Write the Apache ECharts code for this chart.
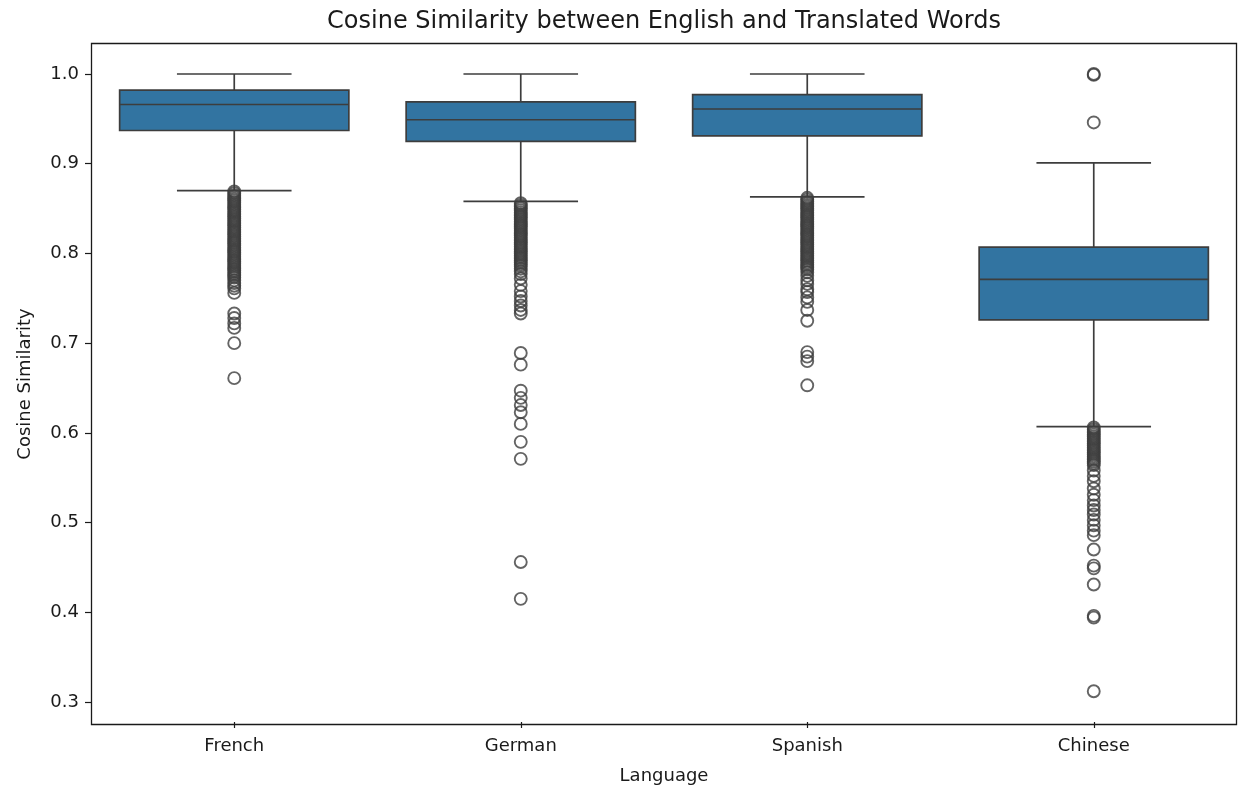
<!DOCTYPE html>
<html>
<head>
<meta charset="utf-8">
<script src="https://cdn.jsdelivr.net/npm/echarts@6/dist/echarts.min.js"></script>
<style>
html,body{margin:0;padding:0;background:#fff;}
#chart{width:1238px;height:790px;}
</style>
</head>
<body>
<div id="chart"></div>
<script>
// ---- data ----
const categories = ['French', 'German', 'Spanish', 'Chinese'];
// [lowWhisker, Q1, median, Q3, highWhisker]
const boxStats = [
  [0.870, 0.937, 0.966, 0.982, 1.000],
  [0.858, 0.925, 0.949, 0.969, 1.000],
  [0.863, 0.931, 0.961, 0.977, 1.000],
  [0.607, 0.726, 0.771, 0.807, 0.901]
];
const outliersFrench = [
  0.869,0.867,0.865,0.863,0.861,0.859,0.857,0.855,0.853,0.851,0.849,0.847,0.845,0.843,
  0.841,0.839,0.837,0.835,0.833,0.831,0.829,0.827,0.825,0.823,0.821,0.819,0.817,0.815,
  0.813,0.811,0.809,0.807,0.805,0.803,0.801,0.799,0.797,0.795,0.793,0.791,0.789,0.787,
  0.785,0.783,0.781,0.779,0.777,0.775,0.773,0.770,0.767,0.764,0.761,0.756,
  0.733,0.728,0.722,0.717,0.700,0.661
];
const outliersGerman = [
  0.856,0.854,0.852,0.850,0.848,0.846,0.844,0.842,0.840,0.838,0.836,0.834,0.832,0.830,
  0.828,0.826,0.824,0.822,0.820,0.818,0.816,0.814,0.812,0.810,0.808,0.806,0.804,0.802,
  0.800,0.798,0.796,0.794,0.792,0.790,0.788,0.786,0.783,0.780,0.777,
  0.772,0.765,0.758,0.752,0.747,0.742,0.737,0.733,
  0.689,0.676,0.647,0.639,0.631,0.623,0.610,0.590,0.571,0.456,0.415
];
const outliersSpanish = [
  0.862,0.860,0.858,0.856,0.854,0.852,0.850,0.848,0.846,0.844,0.842,0.840,0.838,0.836,
  0.834,0.832,0.830,0.828,0.826,0.824,0.822,0.820,0.818,0.816,0.814,0.812,0.810,0.808,
  0.806,0.804,0.802,0.800,0.798,0.796,0.794,0.792,0.790,0.788,0.786,0.784,0.782,0.779,
  0.775,0.770,0.766,0.760,0.757,0.751,0.746,0.737,0.725,
  0.690,0.685,0.680,0.653
];
const outliersChinese = [
  1.000,0.999,0.946,
  0.606,0.604,0.602,0.600,0.598,0.596,0.594,0.592,0.590,0.588,0.586,0.584,0.582,0.580,
  0.578,0.576,0.574,0.572,0.570,0.568,0.566,0.564,
  0.558,0.552,0.546,0.538,0.531,0.525,0.519,0.514,0.509,0.503,0.497,0.491,0.486,
  0.470,0.452,0.449,0.431,0.396,0.394,0.312
];
const yTicks = [0.3, 0.4, 0.5, 0.6, 0.7, 0.8, 0.9, 1.0];

// ---- build ----
const outlierGroups = [outliersFrench, outliersGerman, outliersSpanish, outliersChinese];
const scatterData = [];
outlierGroups.forEach((arr, i) => arr.forEach(v => scatterData.push([categories[i], v])));
const boxData = boxStats.map((s, i) => [i].concat(s));

const FILL = '#3274a1';
const LINE = '#3d3d3d';
const TXT = '#1a1a1a';
const FONT = 'DejaVu Sans';

const chart = echarts.init(document.getElementById('chart'), null, {renderer: 'canvas'});

chart.setOption({
  backgroundColor: '#ffffff',
  animation: false,
  textStyle: {fontFamily: FONT},
  grid: {left: 91, right: 1, top: 74, bottom: 85, containLabel: false},
  xAxis: {
    type: 'category',
    data: categories,
    offset: 20,
    boundaryGap: true,
    axisLine: {show: false},
    axisTick: {show: true, alignWithLabel: true, length: 6, lineStyle: {color: TXT, width: 1.2}},
    axisLabel: {color: TXT, fontSize: 18, fontFamily: FONT, margin: 15},
    splitLine: {show: false},
    name: 'Language',
    nameLocation: 'middle',
    nameGap: 45,
    nameTextStyle: {color: TXT, fontSize: 18, fontFamily: FONT}
  },
  yAxis: {
    type: 'value',
    min: yTicks[0],
    max: yTicks[yTicks.length - 1],
    interval: 0.1,
    axisLine: {show: false},
    axisTick: {show: true, length: 6, lineStyle: {color: TXT, width: 1.2}},
    axisLabel: {color: TXT, fontSize: 18, fontFamily: FONT, margin: 12,
      formatter: v => v.toFixed(1)},
    splitLine: {show: false}
  },
  graphic: [
    {type: 'rect', z: 100, silent: true,
     shape: {x: 91.5, y: 43.5, width: 1145, height: 681},
     style: {fill: 'none', stroke: TXT, lineWidth: 1.3}},
    {type: 'text', z: 100,
     x: 664, y: 22,
     style: {text: 'Cosine Similarity between English and Translated Words',
       fill: TXT, fontSize: 24, fontFamily: FONT, textAlign: 'center', textVerticalAlign: 'middle'}},
    {type: 'text', z: 100,
     x: 25, y: 384, rotation: Math.PI / 2,
     style: {text: 'Cosine Similarity', fill: TXT, fontSize: 18, fontFamily: FONT,
       textAlign: 'center', textVerticalAlign: 'middle'}}
  ],
  series: [
    {
      type: 'custom',
      clip: false,
      data: boxData,
      encode: {x: 0, y: [1, 2, 3, 4, 5]},
      renderItem: function (params, api) {
        const idx = api.value(0);
        const lo = api.coord([idx, api.value(1)]);
        const q1 = api.coord([idx, api.value(2)]);
        const md = api.coord([idx, api.value(3)]);
        const q3 = api.coord([idx, api.value(4)]);
        const hi = api.coord([idx, api.value(5)]);
        const band = api.size([1, 0])[0];
        const bw = band * 0.8 / 2;
        const cw = band * 0.4 / 2;
        const cx = lo[0];
        const ls = {stroke: LINE, lineWidth: 1.7};
        return {
          type: 'group',
          children: [
            {type: 'line', shape: {x1: cx, y1: q3[1], x2: cx, y2: hi[1]}, style: ls},
            {type: 'line', shape: {x1: cx - cw, y1: hi[1], x2: cx + cw, y2: hi[1]}, style: ls},
            {type: 'line', shape: {x1: cx, y1: q1[1], x2: cx, y2: lo[1]}, style: ls},
            {type: 'line', shape: {x1: cx - cw, y1: lo[1], x2: cx + cw, y2: lo[1]}, style: ls},
            {type: 'rect', shape: {x: cx - bw, y: q3[1], width: bw * 2, height: q1[1] - q3[1]},
             style: {fill: FILL, stroke: LINE, lineWidth: 1.7}},
            {type: 'line', shape: {x1: cx - bw, y1: md[1], x2: cx + bw, y2: md[1]}, style: ls}
          ]
        };
      }
    },
    {
      type: 'scatter',
      clip: false,
      data: scatterData,
      symbol: 'circle',
      symbolSize: 12,
      itemStyle: {color: 'rgba(255,255,255,0)', borderColor: LINE, borderWidth: 1.9},
      z: 5
    }
  ]
});
</script>
</body>
</html>
